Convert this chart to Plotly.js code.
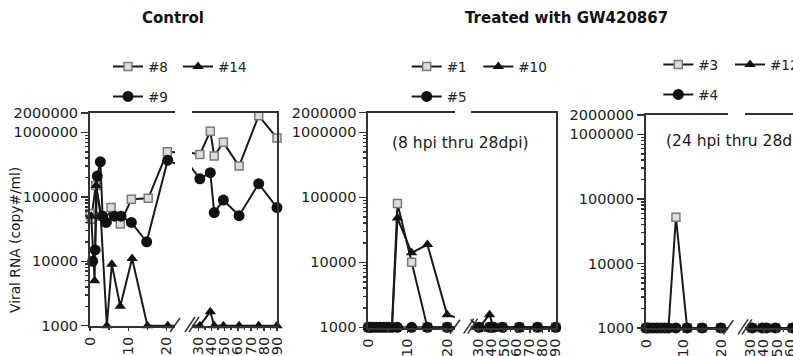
<!DOCTYPE html>
<html><head><meta charset="utf-8">
<script src="https://cdn.plot.ly/plotly-3.0.1.min.js"></script>
<style>html,body{margin:0;padding:0;overflow:hidden;background:#fff}</style>
</head><body><div id="chart" style="width:840px;height:380px"></div>
<script>
// ---------------- data ----------------
// Control panel
const c8Days  = [0, 0.33, 1.5, 3, 4.5, 5.5, 7.9, 10.8, 15.2, 20.2, 31, 39, 42, 49, 61, 76, 90];
const c8Vals  = [55000, 45000, 150000, 50000, 45000, 68000, 38000, 92000, 95000, 500000, 455000, 1040000, 430000, 700000, 300000, 1820000, 815000];
const c14Days = [0.33, 1.2, 1.6, 2.8, 4.4, 5.7, 7.9, 11, 15, 20.3, 31, 39, 42, 49, 61, 76, 90];
const c14Vals = [50000, 5000, 150000, 50000, 1000, 9000, 2000, 11000, 1000, 1000, 1000, 1650, 1000, 1000, 1000, 1000, 1000];
const c9Days  = [0.7, 1.35, 1.9, 2.7, 3.3, 4.2, 6.4, 8.1, 10.8, 14.8, 20.3, 31, 39, 42, 49, 61, 76, 90];
const c9Vals  = [10000, 15000, 210000, 350000, 50000, 40000, 50000, 50000, 40000, 20000, 370000, 190000, 237000, 57000, 89000, 51000, 160000, 68000];
// Treated 8 hpi thru 28 dpi
const t8Days  = [0, 0.33, 1, 2, 3, 4, 5, 6, 7.4, 11, 15, 20, 31, 39, 42, 49, 62, 76, 90];
const t1Vals  = [1000, 1000, 1000, 1000, 1000, 1000, 1000, 1000, 80000, 10000, 1000, 1000, 1000, 1000, 1000, 1000, 1000, 1000, 1000];
const t10Vals = [1000, 1000, 1000, 1000, 1000, 1000, 1000, 1000, 48000, 14000, 18800, 1570, 1000, 1570, 1000, 1000, 1000, 1000, 1000];
const t5Vals  = [1000, 1000, 1000, 1000, 1000, 1000, 1000, 1000, 1000, 1000, 1000, 1000, 1000, 1000, 1000, 1000, 1000, 1000, 1000];
// Treated 24 hpi thru 28 dpi
const t24Days = [0, 0.33, 1, 2, 3, 4, 5, 6, 8, 11, 15, 20, 31, 39, 42, 49, 62, 76, 90];
const t3Vals  = [1000, 1000, 1000, 1000, 1000, 1000, 1000, 1000, 52000, 1000, 1000, 1000, 1000, 1000, 1000, 1000, 1000, 1000, 1000];
const t12Vals = [1000, 1000, 1000, 1000, 1000, 1000, 1000, 1000, 1000, 1000, 1000, 1000, 1000, 1000, 1000, 1000, 1000, 1000, 1000];
const t4Vals  = [1000, 1000, 1000, 1000, 1000, 1000, 1000, 1000, 1000, 1000, 1000, 1000, 1000, 1000, 1000, 1000, 1000, 1000, 1000];

const yTickVals = [1000, 10000, 100000, 1000000, 2000000];
const yTickText = ['1000', '10000', '100000', '1000000', '2000000'];
const xLeftTicks = [0, 10, 20];
const xRightTicks = [30, 40, 50, 60, 70, 80, 90];
const titles = ['Control', 'Treated with GW420867'];
const notes = ['(8 hpi thru 28dpi)', '(24 hpi thru 28dpi)'];
const yTitle = 'Viral RNA (copy#/ml)';

// ---------------- layout helpers ----------------
const W = 840, H = 380;
const px = v => v / W;
const py = v => 1 - v / H;
const FONT = 'DejaVu Sans';
const AX = '#333';

const panels = [
  {left: [90, 175], right: [192, 277], yb: 326, yt: 113, lr: [0, 22.2], rr: [25, 90]},
  {left: [368.3, 455], right: [470.7, 555.7], yb: 327.7, yt: 112.7, lr: [0, 22], rr: [24.5, 90]},
  {left: [646, 728.3], right: [745, 829], yb: 328.3, yt: 115, lr: [0, 22], rr: [25.6, 90]}
];

const yMinor = [];
[1000, 10000, 100000].forEach(d => { for (let k = 2; k <= 9; k++) yMinor.push(d * k); });

const sq = {symbol: 'square', size: 8, color: '#dcdcdc', line: {color: '#7a7a7a', width: 1.5}};
const tri = {symbol: 'triangle-up', size: 10, color: '#111'};
const cir = {symbol: 'circle', size: 11, color: '#111'};

const sid = n => (n === 1 ? '' : String(n));
const traces = [];
function addSeries(p, name, legendId, days, vals, marker) {
  const L = 2 * p + 1, R = L + 1;
  [L, R].forEach((n, k) => {
    traces.push({
      type: 'scatter', mode: 'lines+markers', x: days, y: vals,
      xaxis: 'x' + sid(n), yaxis: 'y' + sid(n), name: name,
      legend: legendId, showlegend: k === 0, cliponaxis: false,
      line: {color: '#1a1a1a', width: 2}, marker: marker, hoverinfo: 'skip'
    });
  });
}
addSeries(0, '#8', 'legend', c8Days, c8Vals, sq);
addSeries(0, '#14', 'legend2', c14Days, c14Vals, tri);
addSeries(0, '#9', 'legend3', c9Days, c9Vals, cir);
addSeries(1, '#1', 'legend4', t8Days, t1Vals, sq);
addSeries(1, '#10', 'legend5', t8Days, t10Vals, tri);
addSeries(1, '#5', 'legend6', t8Days, t5Vals, cir);
addSeries(2, '#3', 'legend7', t24Days, t3Vals, sq);
addSeries(2, '#12', 'legend8', t24Days, t12Vals, tri);
addSeries(2, '#4', 'legend9', t24Days, t4Vals, cir);

const layout = {
  width: W, height: H, margin: {l: 0, r: 0, t: 0, b: 0},
  paper_bgcolor: '#fff', plot_bgcolor: 'rgba(0,0,0,0)',
  font: {family: FONT, color: '#222'},
  showlegend: true, shapes: [], annotations: []
};

const yRange = [2.995, Math.log10(2000000)];
panels.forEach((pn, i) => {
  const L = 2 * i + 1, R = L + 1;
  const yDom = [py(pn.yb), py(pn.yt)];
  const tf = {family: FONT, size: 14.5, color: '#222'};
  const xBase = {
    showline: true, linewidth: 2, linecolor: AX, mirror: true,
    ticks: 'outside', ticklen: 3, tickwidth: 1.5, tickcolor: AX,
    tickmode: 'array', tickangle: -90, tickfont: tf,
    showgrid: false, zeroline: false, fixedrange: true
  };
  layout['xaxis' + sid(L)] = Object.assign({}, xBase, {
    domain: [px(pn.left[0]), px(pn.left[1])], range: pn.lr, anchor: 'y' + sid(L),
    tickvals: xLeftTicks, ticktext: xLeftTicks.map(String),
    minor: {tickmode: 'array', tickvals: [5, 15], ticks: 'outside', ticklen: 2, tickcolor: AX}
  });
  layout['xaxis' + sid(R)] = Object.assign({}, xBase, {
    domain: [px(pn.right[0]), px(pn.right[1])], range: pn.rr, anchor: 'y' + sid(R),
    tickvals: xRightTicks, ticktext: xRightTicks.map(String),
    minor: {tickmode: 'array', tickvals: [35, 45, 55, 65, 75, 85], ticks: 'outside', ticklen: 2, tickcolor: AX}
  });
  layout['yaxis' + sid(L)] = {
    domain: yDom, type: 'log', range: yRange, anchor: 'x' + sid(L), side: 'left',
    showline: true, linewidth: 2, linecolor: AX,
    ticks: 'outside', ticklen: 7, tickwidth: 1.5, tickcolor: AX,
    tickmode: 'array', tickvals: yTickVals, ticktext: yTickText, tickfont: tf,
    minor: {tickmode: 'array', tickvals: yMinor, ticks: 'outside', ticklen: 3, tickcolor: AX},
    showgrid: false, zeroline: false, fixedrange: true
  };
  layout['yaxis' + sid(R)] = {
    domain: yDom, type: 'log', range: yRange, anchor: 'x' + sid(R), side: 'right',
    showline: true, linewidth: 2, linecolor: AX, ticks: '', showticklabels: false,
    showgrid: false, zeroline: false, fixedrange: true
  };
  // axis-break marks
  const l1 = pn.left[1], r0 = pn.right[0], yb = pn.yb;
  const ln = (x0, y0, x1, y1) => ({type: 'line', xref: 'paper', yref: 'paper',
    x0: px(x0), y0: py(y0), x1: px(x1), y1: py(y1), line: {color: AX, width: 1.5}});
  layout.shapes.push(ln(l1 - 5, yb + 6, l1 + 5, yb - 8));
  layout.shapes.push(ln(r0 - 7, yb + 6, r0 + 3, yb - 9));
  layout.shapes.push(ln(r0 - 3, yb + 6, r0 + 7, yb - 9));
});

// legends: one entry each, placed as in the figure
const legPos = [[113, 65], [183, 65], [113, 95], [411.7, 65], [483.3, 65], [411.7, 95], [663.3, 63], [735, 63], [663.3, 93]];
legPos.forEach((p, k) => {
  layout['legend' + (k === 0 ? '' : k + 1)] = {
    x: px(p[0] - 5), y: py(p[1] - 13.8), xanchor: 'left', yanchor: 'top',
    orientation: 'v', bgcolor: 'rgba(0,0,0,0)', borderwidth: 0,
    font: {family: FONT, size: 13.5, color: '#222'}, itemclick: false, itemdoubleclick: false
  };
});

const ann = (text, x, y, size, extra) => Object.assign({
  text: text, x: px(x), y: py(y), xref: 'paper', yref: 'paper',
  xanchor: 'center', yanchor: 'middle', showarrow: false,
  font: {family: FONT, size: size, color: '#1a1a1a'}
}, extra || {});
layout.annotations.push(ann(titles[0], 172.5, 18.5, 15, {font: {family: FONT, size: 15, color: '#111', weight: 'bold'}}));
layout.annotations.push(ann(titles[1], 566, 18.5, 15, {font: {family: FONT, size: 15, color: '#111', weight: 'bold'}}));
layout.annotations.push(ann(notes[0], 460.8, 142.7, 15.5));
layout.annotations.push(ann(notes[1], 739, 140.7, 15.5));
layout.annotations.push(ann(yTitle, 15, 240, 13.8, {textangle: -90}));

Plotly.newPlot('chart', traces, layout, {staticPlot: true, responsive: false});
</script>
</body></html>
